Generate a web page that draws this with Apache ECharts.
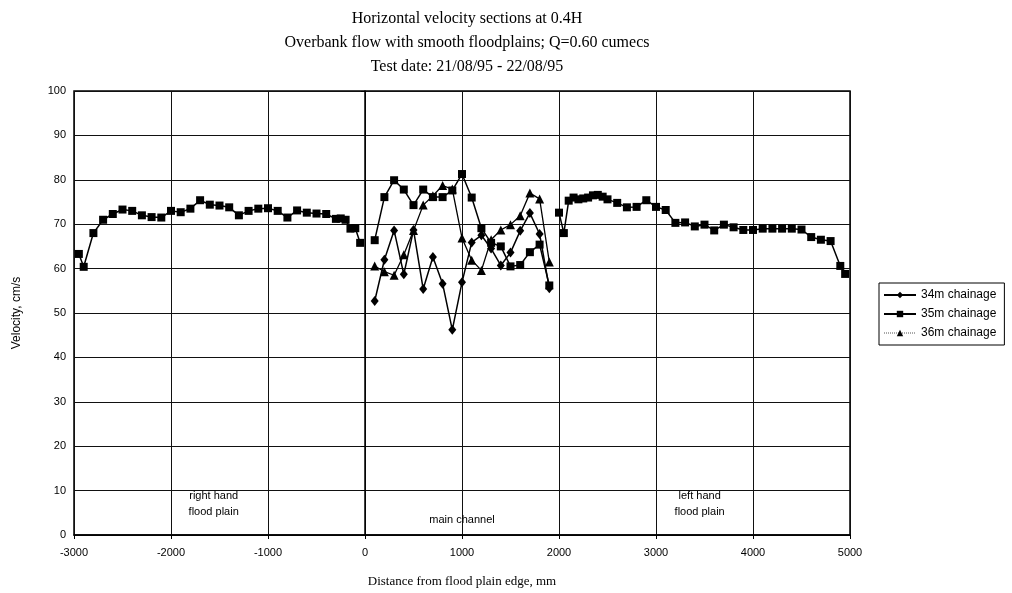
<!DOCTYPE html>
<html>
<head>
<meta charset="utf-8">
<script src="https://cdn.jsdelivr.net/npm/echarts@6/dist/echarts.min.js"></script>
<style>
  html, body { margin: 0; padding: 0; background: #fff; }
  #chart { width: 1012px; height: 593px; }
</style>
</head>
<body>
<div id="chart"></div>
<script>
// Distance from flood plain edge (mm); null velocity breaks the line between zones
const dist35 = [-2950, -2900, -2800, -2700, -2600, -2500, -2400, -2300, -2200, -2100,
  -2000, -1900, -1800, -1700, -1600, -1500, -1400, -1300, -1200, -1100,
  -1000, -900, -800, -700, -600, -500, -400, -300, -250, -200, -150, -100, -50,
  0,
  100, 200, 300, 400, 500, 600, 700, 800, 900, 1000,
  1100, 1200, 1300, 1400, 1500, 1600, 1700, 1800, 1900,
  1950,
  2000, 2050, 2100, 2150, 2200, 2250, 2300, 2350, 2400, 2450, 2500,
  2600, 2700, 2800, 2900, 3000, 3100, 3200, 3300, 3400, 3500,
  3600, 3700, 3800, 3900, 4000, 4100, 4200, 4300, 4400, 4500,
  4600, 4700, 4800, 4900, 4950];
const vel35 = [63.3, 60.4, 68.0, 71.0, 72.3, 73.3, 73.0, 72.0, 71.6, 71.5,
  73.0, 72.7, 73.5, 75.4, 74.4, 74.2, 73.8, 72.0, 73.0, 73.5,
  73.6, 73.0, 71.5, 73.1, 72.6, 72.4, 72.3, 71.2, 71.3, 71.0, 69.0, 69.1, 65.8,
  null,
  66.4, 76.1, 79.9, 77.8, 74.3, 77.8, 76.1, 76.1, 77.6, 81.3,
  76.0, 69.1, 65.8, 65.0, 60.5, 60.8, 63.7, 65.4, 56.2,
  null,
  72.6, 68.0, 75.3, 76.0, 75.6, 75.8, 76.0, 76.5, 76.6, 76.2, 75.6,
  74.8, 73.8, 73.9, 75.4, 73.9, 73.2, 70.3, 70.4, 69.5, 69.9,
  68.6, 69.9, 69.3, 68.7, 68.7, 69.0, 69.0, 69.0, 69.0, 68.8,
  67.1, 66.5, 66.2, 60.6, 58.8];

const dist34 = [100, 200, 300, 400, 500, 600, 700, 800, 900, 1000,
  1100, 1200, 1300, 1400, 1500, 1600, 1700, 1800, 1900];
const vel34 = [52.7, 62.0, 68.6, 58.7, 68.7, 55.4, 62.6, 56.6, 46.2, 56.9,
  65.9, 67.5, 64.5, 60.7, 63.6, 68.5, 72.5, 67.8, 55.6];

const dist36 = [100, 200, 300, 400, 500, 600, 700, 800, 900, 1000,
  1100, 1200, 1300, 1400, 1500, 1600, 1700, 1800, 1900];
const vel36 = [60.6, 59.3, 58.5, 63.1, 68.6, 74.3, 76.4, 78.7, 77.9, 66.9,
  61.9, 59.6, 66.5, 68.7, 69.9, 71.9, 77.0, 75.7, 61.5];

const seriesNames = ['34m chainage', '35m chainage', '36m chainage'];
const xTicks = { min: -3000, max: 5000, step: 1000 };
const yTicks = { min: 0, max: 100, step: 10 };

// Zone captions placed in data coordinates
const zoneLabels = [
  { text: 'right hand\nflood plain', x: -1560, y: 7.0 },
  { text: 'main channel', x: 1000, y: 3.4 },
  { text: 'left hand\nflood plain', x: 3450, y: 7.0 }
];

const pairs = (xs, ys) => xs.map((x, i) => [x, ys[i] === null ? '-' : ys[i]]);

const chart = echarts.init(document.getElementById('chart'));

const lineBase = {
  type: 'line',
  showAllSymbol: true,
  connectNulls: false,
  symbolSize: 8,
  lineStyle: { color: '#000', width: 1.5 },
  itemStyle: { color: '#000' },
  emphasis: { disabled: true },
  animation: false,
  z: 3
};

chart.setOption({
  backgroundColor: '#fff',
  animation: false,
  title: {
    text: 'Horizontal velocity sections at 0.4H\nOverbank flow with smooth floodplains; Q=0.60 cumecs\nTest date: 21/08/95 - 22/08/95',
    left: 462,
    textAlign: 'center',
    top: 2,
    textStyle: {
      fontFamily: 'Liberation Serif',
      fontSize: 16,
      fontWeight: 'normal',
      color: '#000',
      lineHeight: 24
    }
  },
  grid: {
    left: 74,
    right: 162,
    top: 91,
    bottom: 52,
    show: true,
    borderColor: '#000',
    borderWidth: 1.5
  },
  legend: {
    orient: 'vertical',
    left: 879,
    top: 283,
    itemWidth: 32,
    itemHeight: 8,
    itemGap: 7,
    padding: [6, 8, 6, 4],
    borderColor: '#000',
    borderWidth: 1,
    textStyle: { fontFamily: 'Liberation Sans', fontSize: 12, color: '#000' },
    data: [
      { name: seriesNames[0] },
      { name: seriesNames[1] },
      { name: seriesNames[2], lineStyle: { type: 'dotted', width: 1, color: '#555' } }
    ]
  },
  xAxis: {
    type: 'value',
    min: xTicks.min,
    max: xTicks.max,
    interval: xTicks.step,
    name: 'Distance from flood plain edge, mm',
    nameLocation: 'middle',
    nameGap: 40,
    nameTextStyle: { fontFamily: 'Liberation Serif', fontSize: 13, color: '#000' },
    axisLine: { lineStyle: { color: '#000', width: 1.5 } },
    axisTick: { show: true, length: 4, lineStyle: { color: '#000' } },
    axisLabel: {
      fontFamily: 'Liberation Sans', fontSize: 11, color: '#000', margin: 12,
      formatter: v => String(v)
    },
    splitLine: { show: true, lineStyle: { color: '#111', width: 1 } }
  },
  yAxis: {
    type: 'value',
    min: yTicks.min,
    max: yTicks.max,
    interval: yTicks.step,
    name: 'Velocity, cm/s',
    nameLocation: 'middle',
    nameGap: 51,
    nameRotate: 90,
    nameTextStyle: { fontFamily: 'Liberation Sans', fontSize: 12, color: '#000' },
    axisLine: { show: true, lineStyle: { color: '#000', width: 1.5 } },
    axisTick: { show: true, length: 4, lineStyle: { color: '#000' } },
    axisLabel: {
      fontFamily: 'Liberation Sans', fontSize: 11, color: '#000', margin: 8,
      formatter: v => String(v)
    },
    splitLine: { show: true, lineStyle: { color: '#111', width: 1 } }
  },
  series: [
    Object.assign({}, lineBase, {
      name: seriesNames[0],
      symbol: 'diamond',
      symbolSize: [8, 10],
      data: pairs(dist34, vel34)
    }),
    Object.assign({}, lineBase, {
      name: seriesNames[1],
      symbol: 'rect',
      symbolSize: 8,
      data: pairs(dist35, vel35)
    }),
    Object.assign({}, lineBase, {
      name: seriesNames[2],
      symbol: 'triangle',
      symbolSize: 9,
      lineStyle: { color: '#000', width: 1.3 },
      data: pairs(dist36, vel36)
    }),
    {
      type: 'scatter',
      name: 'zones',
      symbol: 'circle',
      symbolSize: 1,
      itemStyle: { color: 'rgba(0,0,0,0)', opacity: 1 },
      silent: true,
      animation: false,
      z: 5,
      data: zoneLabels.map(z => ({ value: [z.x, z.y], label: { formatter: z.text } })),
      label: {
        show: true,
        position: 'inside',
        fontFamily: 'Liberation Sans',
        fontSize: 11,
        color: '#000',
        opacity: 1,
        textBorderWidth: 0,
        lineHeight: 16,
        align: 'center'
      }
    }
  ]
});
</script>
</body>
</html>
